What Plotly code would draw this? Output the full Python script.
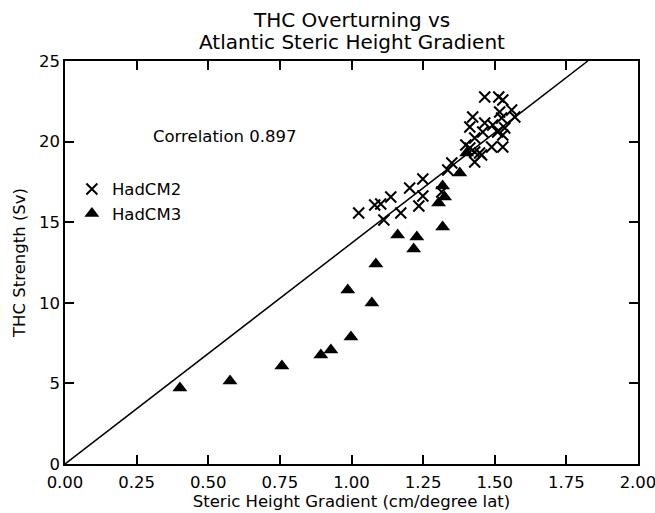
import plotly.graph_objects as go

# HadCM2 (crosses)
hadcm2_x = [1.025, 1.081, 1.102, 1.137, 1.172, 1.113, 1.203, 1.249, 1.235, 1.249,
            1.315, 1.336, 1.350, 1.413, 1.430, 1.447, 1.430, 1.430, 1.454, 1.465,
            1.514, 1.528, 1.559, 1.517, 1.423, 1.570, 1.524, 1.413, 1.465, 1.493,
            1.535, 1.458, 1.510, 1.528, 1.489, 1.528, 1.399]
hadcm2_y = [15.57, 16.07, 16.13, 16.56, 15.57, 15.14, 17.12, 16.63, 16.00, 17.68,
            16.87, 18.24, 18.67, 19.60, 18.73, 19.29, 20.22, 19.35, 19.17, 22.77,
            22.77, 22.58, 21.96, 21.84, 21.53, 21.53, 21.46, 20.91, 21.15, 21.03,
            20.84, 20.60, 20.60, 20.41, 19.67, 19.67, 19.79]

# HadCM3 (triangles)
hadcm3_x = [0.401, 0.576, 0.757, 0.893, 0.928, 0.998, 0.987, 1.071, 1.085, 1.161,
            1.217, 1.228, 1.318, 1.304, 1.325, 1.318, 1.378, 1.402]
hadcm3_y = [4.71, 5.15, 6.08, 6.76, 7.07, 7.88, 10.79, 9.99, 12.41, 14.21,
            13.34, 14.08, 14.70, 16.19, 16.56, 17.25, 18.05, 19.29]

# Regression line (through origin)
fit_slope = 13.7
fit_x = [0.0, 25.0 / fit_slope]
fit_y = [fit_slope * v for v in fit_x]

x_ticks = [0.0, 0.25, 0.5, 0.75, 1.0, 1.25, 1.5, 1.75, 2.0]
x_ticklabels = ["0.00", "0.25", "0.50", "0.75", "1.00", "1.25", "1.50", "1.75", "2.00"]
y_ticks = [0, 5, 10, 15, 20, 25]

title_lines = ["THC Overturning vs", "Atlantic Steric Height Gradient"]

FONT = "DejaVu Sans"
FS = 16.5

fig = go.Figure()
fig.add_trace(go.Scatter(x=fit_x, y=fit_y, mode="lines",
                         line=dict(color="black", width=1.5), showlegend=False,
                         hoverinfo="skip"))
fig.add_trace(go.Scatter(x=hadcm2_x, y=hadcm2_y, mode="markers", name="HadCM2",
                         marker=dict(symbol="x-thin", size=11, color="black",
                                     line=dict(color="black", width=2))))
fig.add_trace(go.Scatter(x=hadcm3_x, y=hadcm3_y, mode="markers", name="HadCM3",
                         marker=dict(symbol="triangle-up", size=13, color="black",
                                     line=dict(width=0))))

axis_common = dict(showline=True, linecolor="black", linewidth=1.5, mirror="ticks",
                   ticks="inside", ticklen=9, tickwidth=1.5, tickcolor="black",
                   showgrid=False, zeroline=False, automargin=False,
                   ticklabeloverflow="allow",
                   tickfont=dict(family=FONT, size=FS, color="black"))

fig.update_xaxes(range=[0, 2], tickvals=x_ticks, ticktext=x_ticklabels,
                 ticklabelstandoff=2,
                 title=dict(text="Steric Height Gradient (cm/degree lat)",
                            font=dict(family=FONT, size=FS, color="black"), standoff=3),
                 **axis_common)
fig.update_yaxes(range=[0, 25], tickvals=y_ticks,
                 title=dict(text="THC Strength (Sv)",
                            font=dict(family=FONT, size=FS, color="black"), standoff=9),
                 **axis_common)

fig.add_annotation(x=0.30, y=20.3, xref="x", yref="y", text="Correlation 0.897",
                   showarrow=False, xanchor="left", yanchor="middle",
                   font=dict(family=FONT, size=FS, color="black"))

for line, py in zip(title_lines, [20, 42]):
    fig.add_annotation(x=0.5, y=(464 - py) / 403, xref="paper", yref="paper",
                       text=line, showarrow=False, xanchor="center", yanchor="middle",
                       font=dict(family=FONT, size=20, color="black"))

fig.update_layout(
    width=655, height=513,
    margin=dict(l=65, r=17, t=61, b=49),
    paper_bgcolor="white", plot_bgcolor="white",
    legend=dict(x=0.012, y=0.725, xanchor="left", yanchor="top",
                bgcolor="rgba(0,0,0,0)", font=dict(family=FONT, size=FS, color="black"),
                itemsizing="trace", tracegroupgap=0),
    font=dict(family=FONT, color="black"),
)

fig.write_html("out.html")
